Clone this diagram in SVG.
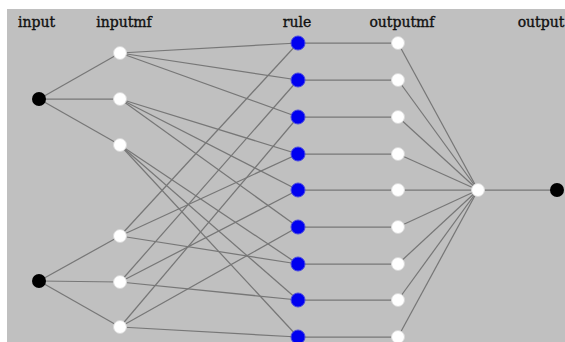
<svg xmlns="http://www.w3.org/2000/svg" width="565" height="342" viewBox="0 0 565 342">
<style>
.lbl{font-family:"DejaVu Serif","Liberation Serif",serif;font-size:14px;fill:#111;stroke:#111;stroke-width:0.35;text-anchor:middle}
.c line{stroke:#777;stroke-width:1.25}
.w{fill:#fff;stroke:#d8d8d8;stroke-width:1}
.b{fill:#0000f0;stroke:#4a4ae0;stroke-width:1}
.k{fill:#000}
</style>
<rect width="565" height="342" fill="#fff"/>
<rect x="7" y="9" width="558" height="333" fill="#c0c0c0"/>
<text class="lbl" x="36.5" y="27">input</text>
<text class="lbl" x="124" y="27">inputmf</text>
<text class="lbl" x="297" y="27">rule</text>
<text class="lbl" x="402" y="27">outputmf</text>
<text class="lbl" x="541" y="27">output</text>
<g class="c" id="connectors">
<line x1="39" y1="99" x2="120" y2="53"/><line x1="39" y1="99" x2="120" y2="99"/><line x1="39" y1="99" x2="120" y2="145"/>
<line x1="39" y1="281" x2="120" y2="236"/><line x1="39" y1="281" x2="120" y2="282"/><line x1="39" y1="281" x2="120" y2="327"/>
<line x1="120" y1="53" x2="298" y2="43"/><line x1="120" y1="53" x2="298" y2="80"/><line x1="120" y1="53" x2="298" y2="117"/>
<line x1="120" y1="99" x2="298" y2="154"/><line x1="120" y1="99" x2="298" y2="190"/><line x1="120" y1="99" x2="298" y2="227"/>
<line x1="120" y1="145" x2="298" y2="264"/><line x1="120" y1="145" x2="298" y2="300"/><line x1="120" y1="145" x2="298" y2="337"/>
<line x1="120" y1="236" x2="298" y2="43"/><line x1="120" y1="236" x2="298" y2="154"/><line x1="120" y1="236" x2="298" y2="264"/>
<line x1="120" y1="282" x2="298" y2="80"/><line x1="120" y1="282" x2="298" y2="190"/><line x1="120" y1="282" x2="298" y2="300"/>
<line x1="120" y1="327" x2="298" y2="117"/><line x1="120" y1="327" x2="298" y2="227"/><line x1="120" y1="327" x2="298" y2="337"/>
<line x1="298" y1="43" x2="398" y2="43"/><line x1="298" y1="80" x2="398" y2="80"/><line x1="298" y1="117" x2="398" y2="117"/>
<line x1="298" y1="154" x2="398" y2="154"/><line x1="298" y1="190" x2="398" y2="190"/><line x1="298" y1="227" x2="398" y2="227"/>
<line x1="298" y1="264" x2="398" y2="264"/><line x1="298" y1="300" x2="398" y2="300"/><line x1="298" y1="337" x2="398" y2="337"/>
<line x1="398" y1="43" x2="478" y2="190"/><line x1="398" y1="80" x2="478" y2="190"/><line x1="398" y1="117" x2="478" y2="190"/>
<line x1="398" y1="154" x2="478" y2="190"/><line x1="398" y1="190" x2="478" y2="190"/><line x1="398" y1="227" x2="478" y2="190"/>
<line x1="398" y1="264" x2="478" y2="190"/><line x1="398" y1="300" x2="478" y2="190"/><line x1="398" y1="337" x2="478" y2="190"/>
<line x1="478" y1="190" x2="557" y2="190"/>
</g>
<g id="input1"><circle class="k" cx="39" cy="99" r="7"/></g>
<g id="input2"><circle class="k" cx="39" cy="281" r="7"/></g>
<g id="inputmf1"><circle class="w" cx="120" cy="53" r="6.5"/></g>
<g id="inputmf2"><circle class="w" cx="120" cy="99" r="6.5"/></g>
<g id="inputmf3"><circle class="w" cx="120" cy="145" r="6.5"/></g>
<g id="inputmf4"><circle class="w" cx="120" cy="236" r="6.5"/></g>
<g id="inputmf5"><circle class="w" cx="120" cy="282" r="6.5"/></g>
<g id="inputmf6"><circle class="w" cx="120" cy="327" r="6.5"/></g>
<g id="rule1"><circle class="b" cx="298" cy="43" r="7"/></g>
<g id="rule2"><circle class="b" cx="298" cy="80" r="7"/></g>
<g id="rule3"><circle class="b" cx="298" cy="117" r="7"/></g>
<g id="rule4"><circle class="b" cx="298" cy="154" r="7"/></g>
<g id="rule5"><circle class="b" cx="298" cy="190" r="7"/></g>
<g id="rule6"><circle class="b" cx="298" cy="227" r="7"/></g>
<g id="rule7"><circle class="b" cx="298" cy="264" r="7"/></g>
<g id="rule8"><circle class="b" cx="298" cy="300" r="7"/></g>
<g id="rule9"><circle class="b" cx="298" cy="337" r="7"/></g>
<g id="outputmf1"><circle class="w" cx="398" cy="43" r="6.5"/></g>
<g id="outputmf2"><circle class="w" cx="398" cy="80" r="6.5"/></g>
<g id="outputmf3"><circle class="w" cx="398" cy="117" r="6.5"/></g>
<g id="outputmf4"><circle class="w" cx="398" cy="154" r="6.5"/></g>
<g id="outputmf5"><circle class="w" cx="398" cy="190" r="6.5"/></g>
<g id="outputmf6"><circle class="w" cx="398" cy="227" r="6.5"/></g>
<g id="outputmf7"><circle class="w" cx="398" cy="264" r="6.5"/></g>
<g id="outputmf8"><circle class="w" cx="398" cy="300" r="6.5"/></g>
<g id="outputmf9"><circle class="w" cx="398" cy="337" r="6.5"/></g>
<g id="aggregate"><circle class="w" cx="478" cy="190" r="6.5"/></g>
<g id="output"><circle class="k" cx="557" cy="190" r="7"/></g>
</svg>
